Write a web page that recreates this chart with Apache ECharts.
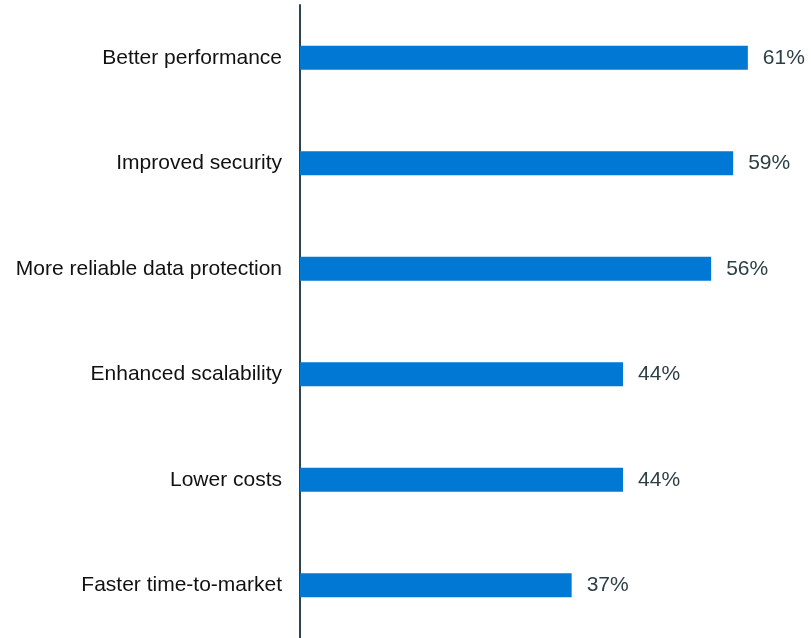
<!DOCTYPE html>
<html>
<head>
<meta charset="utf-8">
<script src="https://cdn.jsdelivr.net/npm/echarts@6/dist/echarts.min.js"></script>
<style>html,body{margin:0;padding:0;background:#fff;}#c{width:811px;height:638px;}</style>
</head>
<body>
<div id="c"></div>
<script>
const categories = ["Better performance","Improved security","More reliable data protection","Enhanced scalability","Lower costs","Faster time-to-market"];
const values = [61, 59, 56, 44, 44, 37];

const chart = echarts.init(document.getElementById('c'), null, {renderer:'canvas'});
chart.setOption({
  animation: false,
  grid: {left: 300, top: 5, right: 0, bottom: -2},
  xAxis: {type: 'value', min: 0, max: 69.6, show: false},
  yAxis: {
    type: 'category', inverse: true, data: categories,
    axisLine: {show: true, lineStyle: {color: '#2b4550', width: 2}},
    axisTick: {show: false},
    axisLabel: {color: '#111', fontFamily: 'Liberation Sans, Arial', fontSize: 21, margin: 18}
  },
  series: [{
    type: 'bar', data: values, barWidth: 24,
    itemStyle: {color: '#0078d4'},
    label: {show: true, position: 'right', distance: 15, formatter: '{c}%', color: '#2b3f45', fontFamily: 'Liberation Sans, Arial', fontSize: 21}
  }]
});
</script>
</body>
</html>
